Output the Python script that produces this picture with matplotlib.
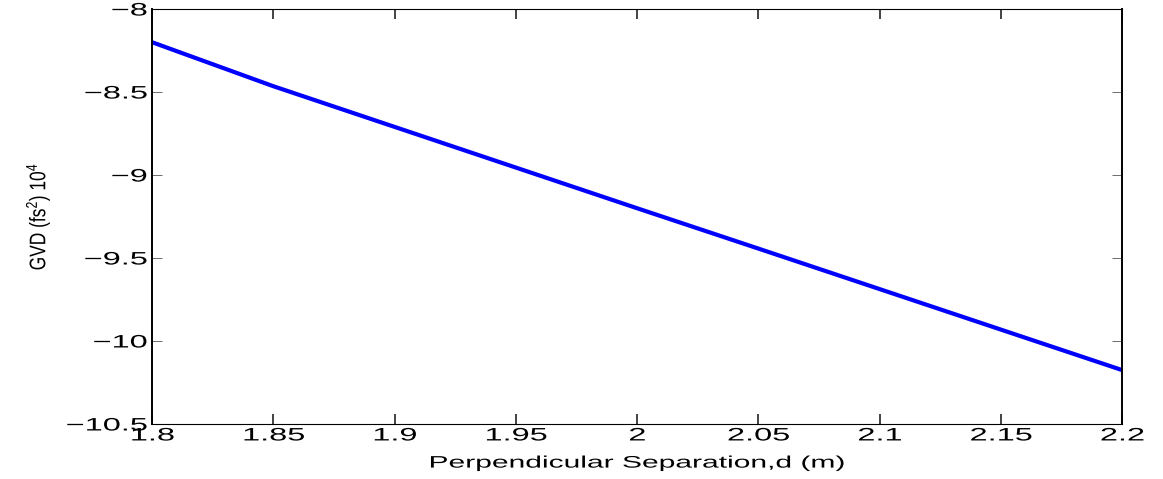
import matplotlib
matplotlib.use('Agg')
import matplotlib.pyplot as plt
from matplotlib.patheffects import AbstractPathEffect
from matplotlib.transforms import Affine2D


# values
separation = [1.8, 1.85, 1.9, 1.95, 2.0, 2.05, 2.1, 2.15, 2.2]
gvd = [-8.20, -8.465, -8.71, -8.955, -9.20, -9.443, -9.687, -9.931, -10.175]

x_ticks = [1.8, 1.85, 1.9, 1.95, 2.0, 2.05, 2.1, 2.15, 2.2]
x_tick_labels = ['1.8', '1.85', '1.9', '1.95', '2', '2.05', '2.1', '2.15', '2.2']
y_ticks = [-10.5, -10, -9.5, -9, -8.5, -8]
y_tick_labels = ['\u221210.5', '\u221210', '\u22129.5', '\u22129', '\u22128.5', '\u22128']

STRETCH = 1.8  # the source image text is wide, stretch it horizontally


class StretchX(AbstractPathEffect):
    # widen glyphs along display x, around left / centre / right of the text
    def __init__(self, sx, anchor='center'):
        super().__init__()
        self.sx = sx
        self.anchor = anchor

    def draw_path(self, renderer, gc, tpath, affine, rgbFace=None):
        if len(tpath.vertices) == 0:
            return
        pts = affine.transform(tpath.vertices)
        if self.anchor == 'right':
            cx = pts[:, 0].max()
        elif self.anchor == 'left':
            cx = pts[:, 0].min()
        else:
            cx = 0.5 * (pts[:, 0].min() + pts[:, 0].max())
        stretch = Affine2D().translate(-cx, 0).scale(self.sx, 1).translate(cx, 0)
        renderer.draw_path(gc, tpath, affine + stretch, rgbFace)


plt.rcParams['font.family'] = ['Liberation Sans', 'DejaVu Sans']
plt.rcParams['mathtext.fontset'] = 'custom'
plt.rcParams['mathtext.rm'] = 'Liberation Sans'
plt.rcParams['mathtext.it'] = 'Liberation Sans:italic'

fig = plt.figure(figsize=(11.63, 4.79), dpi=100)
ax = fig.add_axes([152 / 1163, 1 - 424 / 479, 970 / 1163, 415 / 479])

ax.plot(separation, gvd, color='#0000ff', lw=3.0, solid_joinstyle='round')

ax.set_xlim(1.8, 2.2)
ax.set_ylim(-10.5, -8)
ax.set_xticks(x_ticks, x_tick_labels)
ax.set_yticks(y_ticks, y_tick_labels)

ax.tick_params(direction='in', top=True, right=True, labelsize=13)
ax.tick_params(axis='x', length=7, width=1.2, pad=2.5, color='#222222')
ax.tick_params(axis='y', length=7, width=0.6, pad=3.5, color='#555555')

for side in ['left', 'right']:
    ax.spines[side].set_linewidth(1.4)
for side in ['top', 'bottom']:
    ax.spines[side].set_linewidth(0.8)

for lbl in ax.get_xticklabels():
    lbl.set_path_effects([StretchX(STRETCH, 'center')])
for lbl in ax.get_yticklabels():
    lbl.set_path_effects([StretchX(STRETCH, 'right')])

ax.set_xlabel('Perpendicular Separation,d (m)', fontsize=12, labelpad=8)
ax.xaxis.label.set_path_effects([StretchX(STRETCH, 'center')])

ax.set_ylabel(r'GVD (fs$^2$) 10$^4$', fontsize=12.5)
ax.yaxis.set_label_coords(-0.106, 0.5)
ax.yaxis.label.set_path_effects([StretchX(1.3, 'center')])

fig.savefig('out.png', dpi=100, facecolor='white')
